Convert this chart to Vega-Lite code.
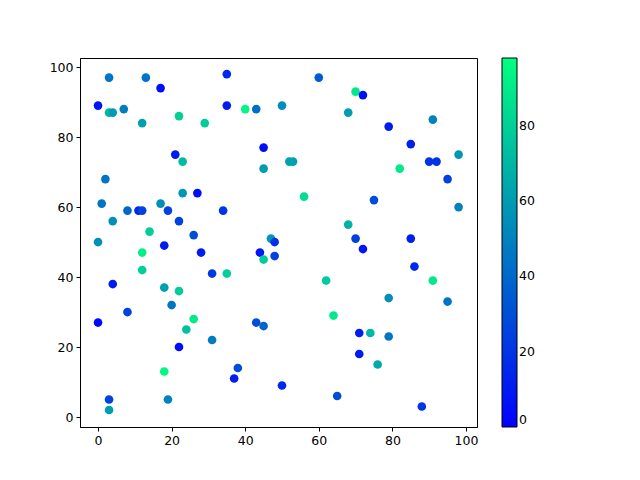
{
  "$schema": "https://vega.github.io/schema/vega-lite/v6.json",
  "autosize": "none",
  "width": 397,
  "height": 369,
  "padding": {"left": 80, "top": 58, "right": 163, "bottom": 53},
  "background": "white",
  "config": {
    "view": {"stroke": "black", "strokeWidth": 1},
    "font": "DejaVu Sans",
    "axis": {"grid": false, "domainColor": "black", "tickColor": "black", "tickSize": 4, "labelColor": "black", "labelFontSize": 12.5, "labelPadding": 3, "title": null, "domainWidth": 1},
    "legend": {"gradientLength": 369, "gradientThickness": 15, "gradientStrokeColor": "black", "gradientStrokeWidth": 1, "labelFontSize": 12.5, "labelColor": "black", "offset": 25, "padding": 0, "labelOffset": 9, "labelOverlap": false}
  },
  "data": {"values": [
    {"x":0,"y":89,"c":8},{"x":3,"y":97,"c":45},{"x":13,"y":97,"c":45},{"x":17,"y":94,"c":5},
    {"x":3,"y":87,"c":70},{"x":4,"y":87,"c":60},{"x":7,"y":88,"c":48},{"x":12,"y":84,"c":62},
    {"x":22,"y":86,"c":80},{"x":29,"y":84,"c":78},{"x":21,"y":75,"c":10},{"x":23,"y":73,"c":72},
    {"x":2,"y":68,"c":45},{"x":35,"y":98,"c":15},{"x":60,"y":97,"c":35},{"x":35,"y":89,"c":12},
    {"x":40,"y":88,"c":95},{"x":43,"y":88,"c":42},{"x":50,"y":89,"c":55},{"x":68,"y":87,"c":60},
    {"x":45,"y":77,"c":5},{"x":45,"y":71,"c":60},{"x":52,"y":73,"c":62},{"x":53,"y":73,"c":62},
    {"x":70,"y":93,"c":90},{"x":72,"y":92,"c":5},{"x":79,"y":83,"c":10},{"x":91,"y":85,"c":50},
    {"x":85,"y":78,"c":12},{"x":82,"y":71,"c":90},{"x":90,"y":73,"c":20},{"x":92,"y":73,"c":20},
    {"x":98,"y":75,"c":58},{"x":95,"y":68,"c":25},{"x":23,"y":64,"c":58},{"x":27,"y":64,"c":5},
    {"x":1,"y":61,"c":45},{"x":8,"y":59,"c":40},{"x":11,"y":59,"c":15},{"x":12,"y":59,"c":25},
    {"x":17,"y":61,"c":55},{"x":19,"y":59,"c":25},{"x":34,"y":59,"c":20},{"x":4,"y":56,"c":55},
    {"x":22,"y":56,"c":25},{"x":14,"y":53,"c":80},{"x":26,"y":52,"c":30},{"x":0,"y":50,"c":55},
    {"x":18,"y":49,"c":10},{"x":28,"y":47,"c":10},{"x":12,"y":47,"c":92},{"x":12,"y":42,"c":80},
    {"x":31,"y":41,"c":22},{"x":4,"y":38,"c":10},{"x":18,"y":37,"c":62},{"x":22,"y":36,"c":78},
    {"x":20,"y":32,"c":45},{"x":56,"y":63,"c":85},{"x":68,"y":55,"c":68},{"x":47,"y":51,"c":58},
    {"x":48,"y":50,"c":18},{"x":44,"y":47,"c":8},{"x":48,"y":46,"c":25},{"x":45,"y":45,"c":78},
    {"x":35,"y":41,"c":80},{"x":62,"y":39,"c":78},{"x":75,"y":62,"c":30},{"x":98,"y":60,"c":50},
    {"x":70,"y":51,"c":25},{"x":85,"y":51,"c":12},{"x":72,"y":48,"c":8},{"x":86,"y":43,"c":15},
    {"x":91,"y":39,"c":90},{"x":79,"y":34,"c":55},{"x":95,"y":33,"c":45},{"x":8,"y":30,"c":25},
    {"x":0,"y":27,"c":3},{"x":26,"y":28,"c":90},{"x":24,"y":25,"c":75},{"x":31,"y":22,"c":48},
    {"x":22,"y":20,"c":5},{"x":18,"y":13,"c":95},{"x":3,"y":5,"c":25},{"x":19,"y":5,"c":50},
    {"x":3,"y":2,"c":60},{"x":43,"y":27,"c":30},{"x":45,"y":26,"c":38},{"x":64,"y":29,"c":90},
    {"x":38,"y":14,"c":30},{"x":37,"y":11,"c":12},{"x":50,"y":9,"c":15},{"x":65,"y":6,"c":30},
    {"x":71,"y":24,"c":12},{"x":74,"y":24,"c":70},{"x":79,"y":23,"c":45},{"x":71,"y":18,"c":10},
    {"x":76,"y":15,"c":65},{"x":88,"y":3,"c":20}
  ]},
  "mark": {"type": "circle", "opacity": 1, "size": 75},
  "encoding": {
    "x": {"field": "x", "type": "quantitative", "scale": {"domain": [-4.9, 103], "nice": false, "zero": false}, "axis": {"values": [0,20,40,60,80,100]}},
    "y": {"field": "y", "type": "quantitative", "scale": {"domain": [-2.85, 102.6], "nice": false, "zero": false}, "axis": {"values": [0,20,40,60,80,100]}},
    "color": {"field": "c", "type": "quantitative", "scale": {"domain": [0, 98], "range": ["#0000ff", "#00ff80"], "interpolate": "rgb"}, "legend": {"title": null, "values": [0,20,40,60,80], "direction": "vertical", "encoding": {"labels": {"update": {"baseline": {"value": "middle"}}}}}}
  }
}
